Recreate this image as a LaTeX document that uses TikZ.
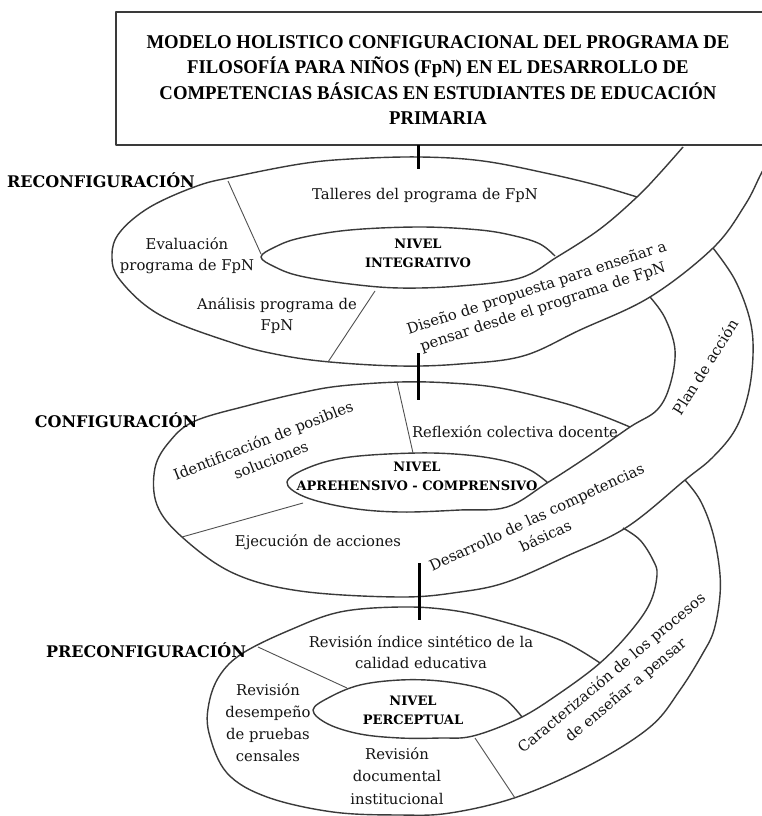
\documentclass[tikz,border=0pt]{standalone}
\usepackage{fontspec}
\setmainfont{DejaVu Serif}
\newfontfamily\titlefont{Liberation Serif}
\definecolor{ln}{HTML}{3A3A3A}
\definecolor{dv}{HTML}{505050}
\begin{document}
\begin{tikzpicture}[x=1pt,y=-1pt,
  loopl/.style={draw=ln, line width=1.4pt, line join=round},
  divl/.style={draw=dv, line width=0.9pt},
  tickl/.style={draw=black, line width=3pt},
  txt/.style={font=\fontsize{14.8}{21}\selectfont, align=center, inner sep=0pt, text=black!92},
  nivel/.style={font=\bfseries\fontsize{13}{19}\selectfont, align=center, inner sep=0pt},
  stage/.style={font=\bfseries\fontsize{16}{19}\selectfont, inner sep=0pt},
  ttl/.style={font=\titlefont\bfseries\fontsize{19.5}{25.5}\selectfont, align=center, inner sep=0pt}
]
\useasboundingbox (0,0) rectangle (762,816);
\fill[white] (0,0) rectangle (762,816);

% title box
\draw[loopl] (116,12) rectangle (800,145);
\node[ttl] (title) at (438,80) {\scalebox{0.96}[1]{MODELO HOLISTICO CONFIGURACIONAL DEL PROGRAMA DE}\\
\scalebox{0.96}[1]{FILOSOFÍA PARA NIÑOS (FpN) EN EL DESARROLLO DE}\\
\scalebox{0.96}[1]{COMPETENCIAS BÁSICAS EN ESTUDIANTES DE EDUCACIÓN}\\
\scalebox{0.96}[1]{PRIMARIA}};

% ---------- level 1 ----------
\draw[loopl] plot[smooth, tension=0.6] coordinates {
(637,197) (600,186) (550,174) (483,161) (420,157) (350,159) (300,164) (233,177) (197,186)
(150,207) (120,232) (112,255) (120,280) (160,315) (233,343) (280,355) (330,362) (400,366)
(460,364) (523,356) (580,330) (650,297) (713,248) (745,205) (762,172) (780,140)};
\draw[loopl] plot[smooth, tension=0.6] coordinates {
(555,256) (540,244) (515,236) (480,230) (420,227) (350,230) (300,238) (275,247) (261,257)
(275,267) (300,276) (350,284) (400,288) (460,286) (520,278) (557,257) (600,229) (637,197)
(660,173) (683,147)};
\draw[divl] (228,181) -- (261,254);
\draw[divl] (375,291) -- (328,362);

% ---------- level 2 ----------
\draw[loopl] plot[smooth, tension=0.6] coordinates {
(630,427) (600,415) (560,402) (500,388) (450,383) (400,382) (340,386) (300,393) (250,405)
(195,421) (170,441) (155,468) (157,505) (182,537) (233,573) (300,591) (400,597) (460,592)
(507,582) (567,556) (627,527) (685,480) (712,458) (735,430) (748,395) (753,355) (750,320)
(735,280) (713,248)};
\draw[loopl] plot[smooth, tension=0.6] coordinates {
(547,482) (530,470) (505,461) (467,455) (417,453) (350,457) (310,467) (287,482) (305,497)
(350,508) (400,512) (460,510) (507,507) (547,483) (590,455) (630,427) (657,410) (670,385)
(675,350) (665,318) (650,297)};
\draw[divl] (397,382) -- (413,453);
\draw[divl] (182,537) -- (303,503);

% ---------- level 3 ----------
\draw[loopl] plot[smooth, tension=0.6] coordinates {
(600,663) (560,640) (497,620) (450,610) (400,607) (340,612) (290,630) (243,653) (220,675)
(209,703) (209,733) (227,773) (267,797) (333,812) (400,815) (450,813) (517,797) (590,765)
(650,727) (680,690) (703,653) (714,630) (720,595) (719,565) (712,530) (700,500) (685,480)};
\draw[loopl] plot[smooth, tension=0.6] coordinates {
(522,717) (505,699) (480,688) (440,681) (400,680) (360,685) (330,697) (313,710) (328,724)
(360,734) (400,738) (440,738) (473,736) (520,718) (560,693) (600,663) (630,632) (650,603)
(657,575) (653,560) (640,540) (623,528)};
\draw[divl] (258,647) -- (347,688);
\draw[divl] (475,738) -- (515,798);

% ticks
\draw[tickl] (418,145) -- (418,169);
\draw[tickl] (418,353) -- (418,400);
\draw[tickl] (419,563) -- (419,620);

% stage labels
\node[stage] (reconf) at (101,180) {RECONFIGURACIÓN};
\node[stage] (conf) at (116,420) {CONFIGURACIÓN};
\node[stage] (preconf) at (146,650) {PRECONFIGURACIÓN};

% level 1 texts
\node[txt] (talleres) at (425,196) {Talleres del programa de FpN};
\node[nivel] (niv1) at (418,253) {NIVEL\\INTEGRATIVO};
\node[txt] (evalua) at (187,255.5) {Evaluación\\programa de FpN};
\node[txt] (analisis) at (277,315.5) {Análisis programa de\\FpN};
\node[txt, rotate=18, font=\fontsize{14.8}{20}\selectfont] (diseno) at (540,298) {Diseño de propuesta para enseñar a\\pensar desde el programa de FpN};

% level 2 texts
\node[txt, rotate=21.5] (identif) at (267,450) {Identificación de posibles\\soluciones};
\node[txt] (reflex) at (515,432) {Reflexión colectiva docente};
\node[nivel] (niv2) at (417,476.5) {NIVEL\\APREHENSIVO - COMPRENSIVO};
\node[txt] (ejec) at (318,542) {Ejecución de acciones};
\node[txt, rotate=25] (desarr) at (541,526.5) {Desarrollo de las competencias\\básicas};
\node[txt, rotate=58] (plan) at (705,367) {Plan de acción};

% level 3 texts
\node[txt] (indice) at (421,652.5) {Revisión índice sintético de la\\calidad educativa};
\node[nivel] (niv3) at (413,710.5) {NIVEL\\PERCEPTUAL};
\node[txt, font=\fontsize{14.8}{22}\selectfont] (desemp) at (268,723) {Revisión\\desempeño\\de pruebas\\censales};
\node[txt, font=\fontsize{14.8}{22.5}\selectfont] (docum) at (397,776) {Revisión\\documental\\institucional};
\node[txt, rotate=40, font=\fontsize{14.8}{22}\selectfont] (caract) at (619,682) {Caracterización de los procesos\\de enseñar a pensar};
\end{tikzpicture}
\end{document}
